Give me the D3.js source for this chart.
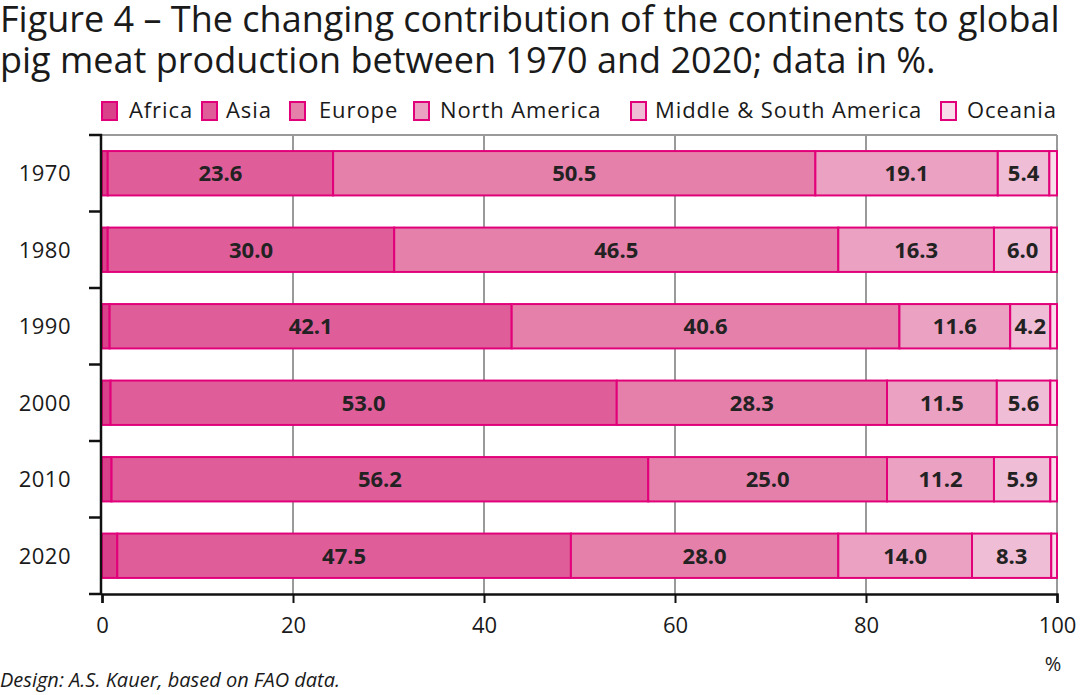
<!DOCTYPE html>
<html><head><meta charset="utf-8">
<script src="https://cdn.jsdelivr.net/npm/d3@7"></script>
<style>body{margin:0;background:#fff}svg{display:block;font-family:"Open Sans",sans-serif}</style>
</head><body>
<svg id="c" width="1080" height="695"></svg>
<script>
const years = ["1970","1980","1990","2000","2010","2020"];
const continents = ["Africa","Asia","Europe","North America","Middle & South America","Oceania"];
const africa  = [0.6, 0.6, 0.8, 0.9, 1.0, 1.6];
const asia    = [23.6, 30.0, 42.1, 53.0, 56.2, 47.5];
const europe  = [50.5, 46.5, 40.6, 28.3, 25.0, 28.0];
const northAm = [19.1, 16.3, 11.6, 11.5, 11.2, 14.0];
const midSouth= [5.4, 6.0, 4.2, 5.6, 5.9, 8.3];
const oceania = [0.8, 0.6, 0.7, 0.7, 0.7, 0.6];
const labelled = [false, true, true, true, true, false];
const xTicks = [0,20,40,60,80,100];
const title = ["Figure 4 \u2013 The changing contribution of the continents to global","pig meat production between 1970 and 2020; data in %."];
const footer = "Design: A.S. Kauer, based on FAO data.";

const series = [africa, asia, europe, northAm, midSouth, oceania];
const colors = ["#d9418a","#df5e99","#e580aa","#eba1c2","#f0bdd6","#f8dcea"];
const strokeC = "#e2007a";

const svg = d3.select("#c");
const x = d3.scaleLinear().domain([0,100]).range([102,1057]);
const y = d3.scaleBand().domain(years).range([135,594]).paddingInner(0.42).paddingOuter(0.21);

// title
svg.selectAll("text.title").data(title).join("text").attr("class","title")
  .attr("x",0).attr("y",(d,i)=>32+i*41).attr("font-size",36).attr("fill","#1a1a1a").text(d=>d);

// legend
const legX = [101,201,289,413,630,940];
const leg = svg.selectAll("g.leg").data(continents).join("g").attr("class","leg")
  .attr("transform",(d,i)=>`translate(${legX[i]},101)`);
leg.append("rect").attr("x",1).attr("y",1).attr("width",15).attr("height",18)
  .attr("fill",(d,i)=>colors[i]).attr("stroke",strokeC).attr("stroke-width",2);
leg.append("text").attr("x",(d,i)=>[28,25,30,27,25,27][i]).attr("y",17).attr("font-size",22)
  .attr("letter-spacing",0.9).attr("fill","#1a1a1a").text(d=>d);

// grid
const grid = svg.append("g");
grid.append("line").attr("x1",x(0)).attr("x2",x(100)).attr("y1",135).attr("y2",135).attr("stroke","#9a9a9a").attr("stroke-width",2);
grid.selectAll("line.v").data(xTicks.filter(t=>t>0)).join("line").attr("class","v")
  .attr("x1",d=>x(d)).attr("x2",d=>x(d)).attr("y1",135).attr("y2",594).attr("stroke","#9a9a9a").attr("stroke-width",2);

// stacked
const rows = years.map((yr,i)=>{ const o={year:yr}; continents.forEach((c,j)=>o[c]=series[j][i]); return o;});
const stack = d3.stack().keys(continents)(rows);
const layers = svg.selectAll("g.layer").data(stack).join("g").attr("class","layer");
layers.each(function(layer, j){
  d3.select(this).selectAll("rect").data(layer).join("rect")
    .attr("x",d=>x(d[0])).attr("width",d=>x(d[1])-x(d[0]))
    .attr("y",d=>y(d.data.year)).attr("height",y.bandwidth())
    .attr("fill",colors[j]).attr("stroke",strokeC).attr("stroke-width",2);
});
layers.each(function(layer, j){
  if(!labelled[j]) return;
  d3.select(this).selectAll("text").data(layer).join("text")
    .attr("x",d=>(x(d[0])+x(d[1]))/2).attr("y",d=>y(d.data.year)+y.bandwidth()/2+8)
    .attr("text-anchor","middle").attr("font-size",22).attr("font-weight",700).attr("fill","#222")
    .text(d=>(d[1]-d[0]).toFixed(1));
});

// y axis
const yl = svg.append("g");
yl.selectAll("text").data(years).join("text").attr("x",71).attr("y",d=>y(d)+y.bandwidth()/2+8)
  .attr("text-anchor","end").attr("font-size",22).attr("letter-spacing",0.5).attr("fill","#1a1a1a").text(d=>d);
yl.selectAll("line.t").data(d3.range(years.length+1)).join("line").attr("class","t")
  .attr("x1",89).attr("x2",102).attr("y1",i=>135+i*y.step()).attr("y2",i=>135+i*y.step())
  .attr("stroke","#111").attr("stroke-width",2.5);
yl.append("line").attr("x1",101).attr("x2",101).attr("y1",134).attr("y2",595).attr("stroke","#111").attr("stroke-width",2.5);

// x axis
const xa = svg.append("g").attr("transform","translate(0,594)")
  .call(d3.axisBottom(x).tickValues(xTicks).tickSize(9).tickPadding(14).tickFormat(d3.format("d")));
xa.select(".domain").attr("stroke","#111").attr("stroke-width",2.5);
xa.selectAll(".tick line").attr("stroke","#111").attr("stroke-width",2);
xa.selectAll(".tick text").attr("font-size",22).attr("fill","#1a1a1a").attr("font-family","Open Sans");

svg.append("text").attr("x",1053).attr("y",671).attr("text-anchor","middle").attr("font-size",20).attr("fill","#1a1a1a").text("%");
svg.append("text").attr("x",0).attr("y",687).attr("font-size",20).attr("font-style","italic").attr("fill","#1a1a1a")
  .text(footer);
</script>
</body></html>
